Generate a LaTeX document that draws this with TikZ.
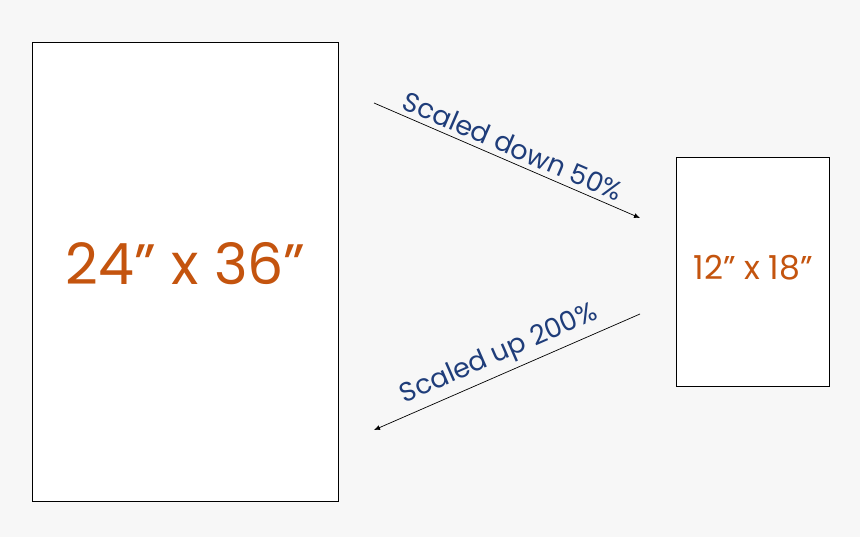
\documentclass[tikz,border=0pt]{standalone}
\usepackage{fontspec}
\setmainfont{Poppins}
\usepackage{xcolor}
\usetikzlibrary{arrows.meta}
\definecolor{bggray}{HTML}{F7F7F7}
\definecolor{sizeorange}{HTML}{C4540E}
\definecolor{scalenavy}{HTML}{1F3D7A}
\begin{document}
\begin{tikzpicture}[
  x=1pt,y=-1pt,
  sheet/.style={draw,line width=1.4pt,fill=white,anchor=north west,inner sep=0pt},
  size/.style={text=sizeorange},
  to/.style={-{Latex[length=6pt,width=5pt]},line width=0.7pt,black},
  scalelabel/.style={sloped,above,text=scalenavy,font=\fontsize{27}{27}\selectfont,inner sep=5pt}]

  % Background and page size
  \fill[bggray] (0,0) rectangle (860,537);

  % Place the two sheets
  \node[sheet,minimum width=306pt,minimum height=459pt] (poster) at (32,42) {};
  \node[sheet,minimum width=153pt,minimum height=229pt] (print) at (676,157) {};
  \node[size,font=\fontsize{57}{57}\selectfont] (poster_size) at ([yshift=9pt]poster.center) {24” x 36”};
  \node[size,font=\fontsize{33}{33}\selectfont] (print_size) at ([yshift=5pt]print.center) {12” x 18”};

  % Arrow end points
  \coordinate (down_start) at (374,103);
  \coordinate (down_end) at (640,218);
  \coordinate (up_start) at (640,314);
  \coordinate (up_end) at (374,430);

  % Draw the arrows and label them
  \draw[to] (down_start) -- node[scalelabel] {Scaled down 50\%} (down_end);
  \draw[to] (up_start) -- node[scalelabel] {Scaled up 200\%} (up_end);
\end{tikzpicture}
\end{document}
